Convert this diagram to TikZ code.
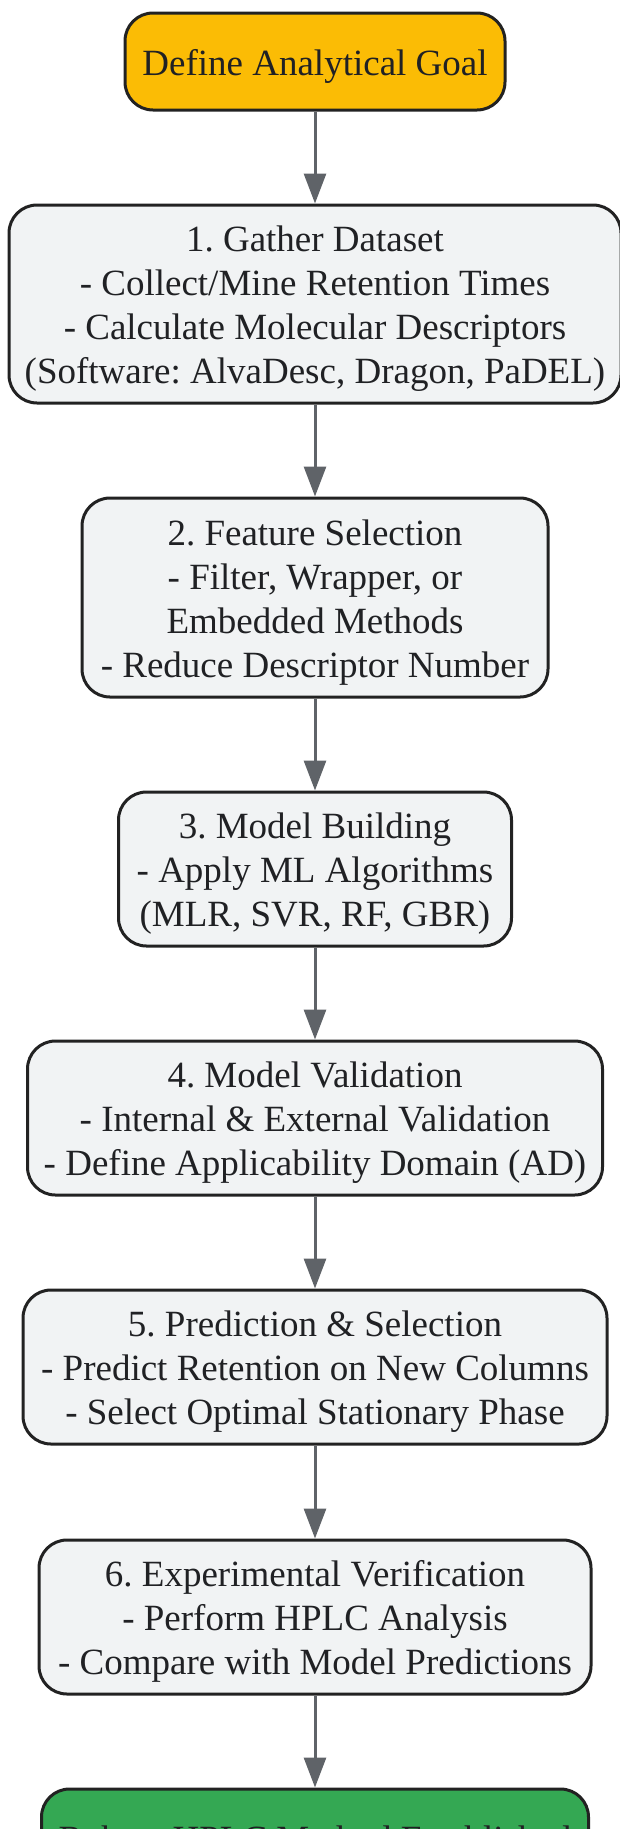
\documentclass[tikz,border=0pt]{standalone}
\usepackage{fontspec}
\setmainfont{Liberation Serif}
\usetikzlibrary{arrows.meta}
\definecolor{goalfill}{HTML}{FBBC05}
\definecolor{stepfill}{HTML}{F1F3F4}
\definecolor{donefill}{HTML}{34A853}
\definecolor{edgecol}{HTML}{222222}
\definecolor{arrowcol}{HTML}{5F6368}
\definecolor{txtcol}{HTML}{202124}
\newcommand{\boxlines}[1]{\raisebox{0pt}[\dimexpr\height+10pt\relax][\depth]{\begin{tabular}{@{}c@{}}#1\end{tabular}}}
\tikzset{
  stepbox/.style={draw=edgecol, line width=3pt, fill=stepfill, rounded corners=28pt,
    align=center, inner sep=0pt, text=txtcol,
    font=\fontsize{37}{44}\selectfont\frenchspacing},
  goalbox/.style={stepbox, fill=goalfill},
  donebox/.style={stepbox, fill=donefill},
  flow/.style={draw=arrowcol, line width=3pt, -{Triangle[length=30pt,width=22pt]}}
}
\begin{document}
\begin{tikzpicture}[x=1pt,y=-1pt]
\useasboundingbox (0,0) rectangle (619,1829);
\node[goalbox, minimum width=380pt, minimum height=97pt] (goal) at (315,61.5) {\boxlines{Define Analytical Goal}};
\node[stepbox, minimum width=612pt, minimum height=198pt] (s1) at (315,304) {\boxlines{1. Gather Dataset\\- Collect/Mine Retention Times\\- Calculate Molecular Descriptors\\(Software: AlvaDesc, Dragon, PaDEL)}};
\node[stepbox, minimum width=466pt, minimum height=199pt] (s2) at (315,597.5) {\boxlines{2. Feature Selection\\- Filter, Wrapper, or\\Embedded Methods\\- Reduce Descriptor Number}};
\node[stepbox, minimum width=393pt, minimum height=154pt] (s3) at (315,869) {\boxlines{3. Model Building\\- Apply ML Algorithms\\(MLR, SVR, RF, GBR)}};
\node[stepbox, minimum width=575pt, minimum height=154pt] (s4) at (315,1118) {\boxlines{4. Model Validation\\- Internal \& External Validation\\- Define Applicability Domain (AD)}};
\node[stepbox, minimum width=584pt, minimum height=154pt] (s5) at (315,1367) {\boxlines{5. Prediction \& Selection\\- Predict Retention on New Columns\\- Select Optimal Stationary Phase}};
\node[stepbox, minimum width=552pt, minimum height=154pt] (s6) at (315,1617) {\boxlines{6. Experimental Verification\\- Perform HPLC Analysis\\- Compare with Model Predictions}};
\node[donebox, minimum width=547pt, minimum height=97pt] (done) at (315,1837.5) {\boxlines{Robust HPLC Method Established}};
\draw[flow] (goal) -- (s1);
\draw[flow] (s1) -- (s2);
\draw[flow] (s2) -- (s3);
\draw[flow] (s3) -- (s4);
\draw[flow] (s4) -- (s5);
\draw[flow] (s5) -- (s6);
\draw[flow] (s6) -- (done);
\end{tikzpicture}
\end{document}
